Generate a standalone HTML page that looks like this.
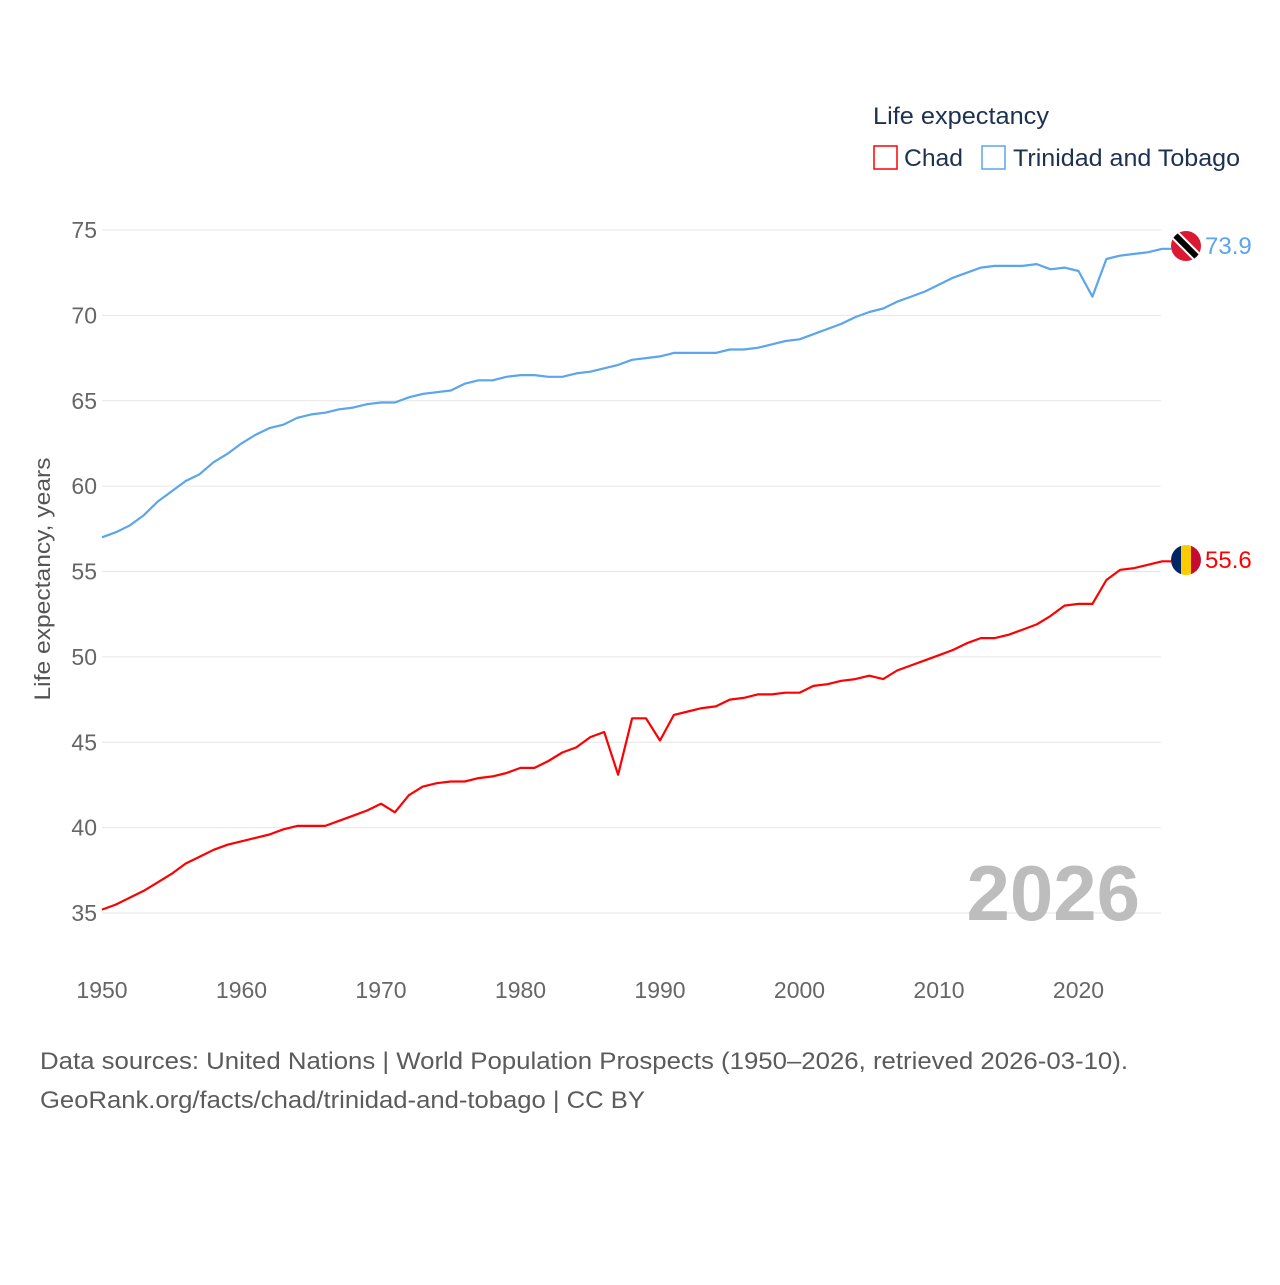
<!DOCTYPE html>
<html><head><meta charset="utf-8"><style>
body{margin:0;background:#fff;}
svg text{font-family:"Liberation Sans",sans-serif;}
</style></head><body>
<svg id="chart" width="1280" height="1280" xmlns="http://www.w3.org/2000/svg">
<text x="873" y="124" font-size="24" fill="#1d3150" textLength="176" lengthAdjust="spacingAndGlyphs">Life expectancy</text>
<g><rect x="874" y="146" width="23" height="23" fill="none" stroke="#ff0000" stroke-width="1.5"/><text x="904" y="166" font-size="24" fill="#1d3150" textLength="59" lengthAdjust="spacingAndGlyphs">Chad</text></g>
<g><rect x="982" y="146" width="23" height="23" fill="none" stroke="#5aa5ec" stroke-width="1.5"/><text x="1013" y="166" font-size="24" fill="#1d3150" textLength="227" lengthAdjust="spacingAndGlyphs">Trinidad and Tobago</text></g>
<g id="grid"></g><g id="yt"></g><g id="xt"></g>
<text transform="translate(50,579) rotate(-90)" text-anchor="middle" font-size="22" fill="#555" textLength="243" lengthAdjust="spacingAndGlyphs">Life expectancy, years</text>
<text x="1140" y="920" text-anchor="end" font-size="78" font-weight="bold" fill="#bdbdbd">2026</text>
<g id="lines"></g>
<g><clipPath id="c1"><circle cx="1186" cy="246" r="15"/></clipPath><g clip-path="url(#c1)"><rect x="1170" y="230" width="32" height="32" fill="#da1a35"/><line x1="1170" y1="230" x2="1202" y2="262" stroke="#fff" stroke-width="10"/><line x1="1170" y1="230" x2="1202" y2="262" stroke="#000" stroke-width="6"/></g></g>
<g><clipPath id="c2"><circle cx="1186" cy="560" r="15"/></clipPath><g clip-path="url(#c2)"><rect x="1171" y="545" width="10" height="30" fill="#002664"/><rect x="1181" y="545" width="10" height="30" fill="#fecb00"/><rect x="1191" y="545" width="10" height="30" fill="#c60c30"/></g></g>
<text x="1205" y="254" font-size="24" fill="#5aa5ec">73.9</text>
<text x="1205" y="568" font-size="24" fill="#ff0000">55.6</text>
<text x="40" y="1069" font-size="24" fill="#5b5b5b" textLength="1088" lengthAdjust="spacingAndGlyphs">Data sources: United Nations | World Population Prospects (1950–2026, retrieved 2026-03-10).</text>
<text x="40" y="1108" font-size="24" fill="#5b5b5b" textLength="605" lengthAdjust="spacingAndGlyphs">GeoRank.org/facts/chad/trinidad-and-tobago | CC BY</text>
</svg>
<script>
const startYear = 1950;
const yTicks = [35,40,45,50,55,60,65,70,75];
const xTicks = [1950,1960,1970,1980,1990,2000,2010,2020];
const trinidad = [57.0,57.3,57.7,58.3,59.1,59.7,60.3,60.7,61.4,61.9,62.5,63.0,63.4,63.6,64.0,64.2,64.3,64.5,64.6,64.8,64.9,64.9,65.2,65.4,65.5,65.6,66.0,66.2,66.2,66.4,66.5,66.5,66.4,66.4,66.6,66.7,66.9,67.1,67.4,67.5,67.6,67.8,67.8,67.8,67.8,68.0,68.0,68.1,68.3,68.5,68.6,68.9,69.2,69.5,69.9,70.2,70.4,70.8,71.1,71.4,71.8,72.2,72.5,72.8,72.9,72.9,72.9,73.0,72.7,72.8,72.6,71.1,73.3,73.5,73.6,73.7,73.9];
const chad = [35.2,35.5,35.9,36.3,36.8,37.3,37.9,38.3,38.7,39.0,39.2,39.4,39.6,39.9,40.1,40.1,40.1,40.4,40.7,41.0,41.4,40.9,41.9,42.4,42.6,42.7,42.7,42.9,43.0,43.2,43.5,43.5,43.9,44.4,44.7,45.3,45.6,43.1,46.4,46.4,45.1,46.6,46.8,47.0,47.1,47.5,47.6,47.8,47.8,47.9,47.9,48.3,48.4,48.6,48.7,48.9,48.7,49.2,49.5,49.8,50.1,50.4,50.8,51.1,51.1,51.3,51.6,51.9,52.4,53.0,53.1,53.1,54.5,55.1,55.2,55.4,55.6];
const NS="http://www.w3.org/2000/svg";
function X(yr){return 102+(yr-1950)*13.95;}
function Y(v){return 230+(75-v)*17.075;}
const grid=document.getElementById('grid'), yt=document.getElementById('yt'), xt=document.getElementById('xt'), lines=document.getElementById('lines');
yTicks.forEach(v=>{
  const l=document.createElementNS(NS,'line');
  
  
  l.setAttribute('x1',102);l.setAttribute('x2',1161);l.setAttribute('y1',Y(v));l.setAttribute('y2',Y(v));
  l.setAttribute('stroke','#e6e6e6');l.setAttribute('stroke-width','1');grid.appendChild(l);
  const t=document.createElementNS(NS,'text');
  
  
  t.setAttribute('x',97);t.setAttribute('y',Y(v)+8);t.setAttribute('text-anchor','end');
  t.setAttribute('font-size','23');t.setAttribute('fill','#666');t.textContent=v;yt.appendChild(t);
});
xTicks.forEach(v=>{
  const t=document.createElementNS(NS,'text');
  
  
  t.setAttribute('x',X(v));t.setAttribute('y',998);t.setAttribute('text-anchor','middle');
  t.setAttribute('font-size','23');t.setAttribute('fill','#666');t.textContent=v;xt.appendChild(t);
});
function draw(arr,color,name){
  const p=document.createElementNS(NS,'polyline');
  
  
  const pts=arr.map((v,i)=>X(startYear+i).toFixed(1)+','+Y(v).toFixed(1));
  pts.push((X(startYear+arr.length-1)+9).toFixed(1)+','+Y(arr[arr.length-1]).toFixed(1));
  p.setAttribute('points',pts.join(' '));
  p.setAttribute('fill','none');p.setAttribute('stroke',color);p.setAttribute('stroke-width','2.2');
  p.setAttribute('stroke-linejoin','round');lines.appendChild(p);
}
draw(trinidad,'#5aa5ec','line-trinidad');
draw(chad,'#ff0000','line-chad');
</script>
</body></html>
